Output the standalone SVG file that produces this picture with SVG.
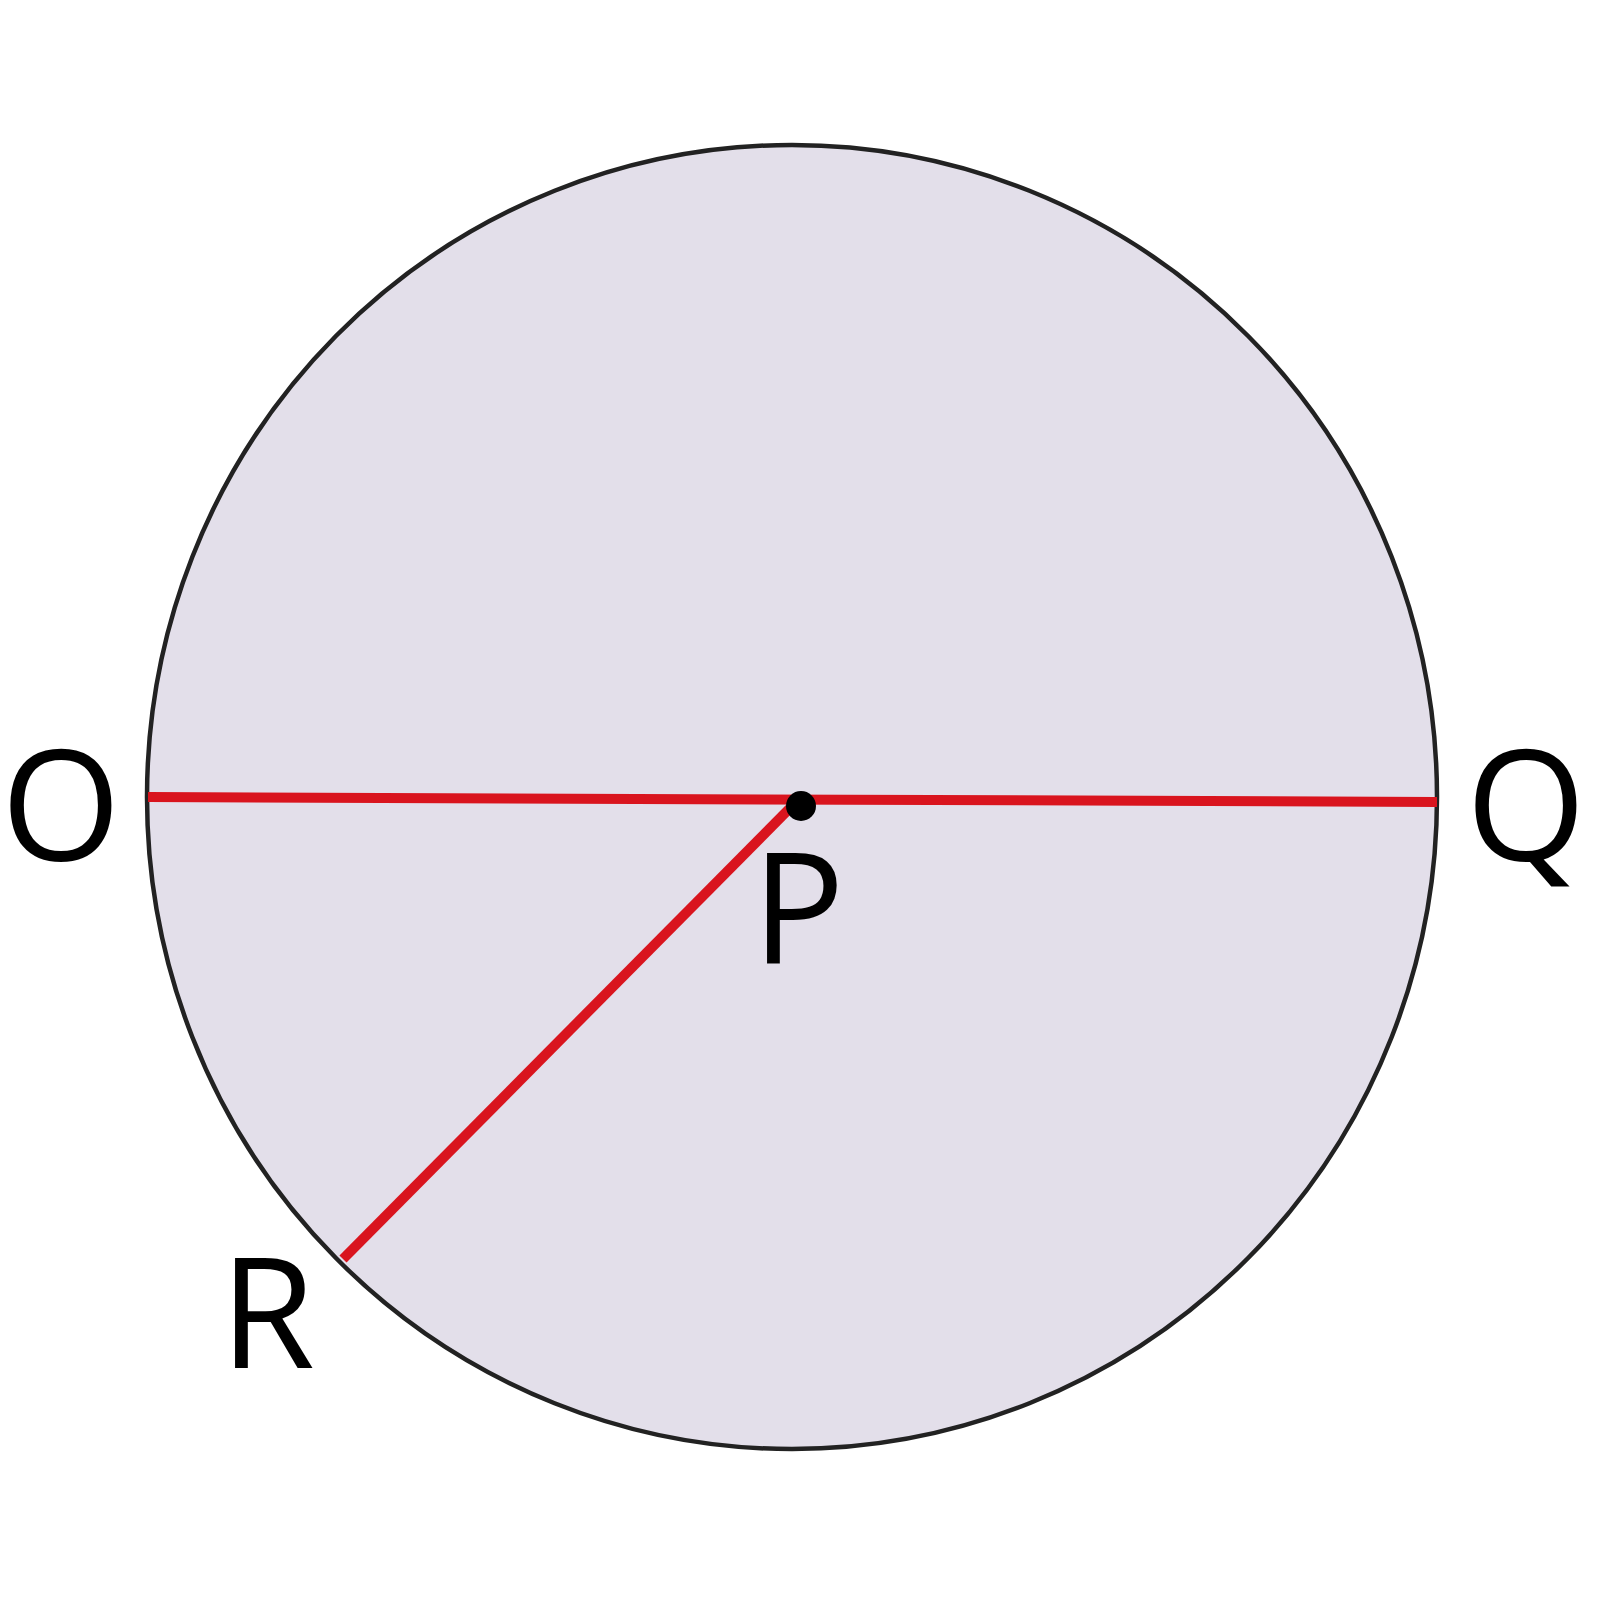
<svg xmlns="http://www.w3.org/2000/svg" width="1600" height="1600" viewBox="0 0 1600 1600">
<style>
.lbl{font-family:"Open Sans","Liberation Sans",sans-serif;font-size:154px;fill:#000}
.seg{stroke:#d9141e;stroke-width:10;stroke-linecap:butt;fill:none}
</style>
<rect width="1600" height="1600" fill="#fff"/>
<g id="circle">
<ellipse cx="792" cy="797" rx="645" ry="652" fill="#e3dfea" stroke="#222" stroke-width="4.5"/>
</g>
<g id="connectors">
<line class="seg" x1="148" y1="797" x2="1437" y2="802"/>
<line class="seg" x1="796" y1="802" x2="343" y2="1259"/>
</g>
<g id="P-point">
<circle cx="801" cy="806" r="15" fill="#000"/>
<text class="lbl" x="752" y="963">P</text>
</g>
<g id="O"><text class="lbl" x="1" y="861">O</text></g>
<g id="Q"><text class="lbl" x="1466" y="861">Q</text></g>
<g id="R"><text class="lbl" x="220" y="1368">R</text></g>
</svg>
